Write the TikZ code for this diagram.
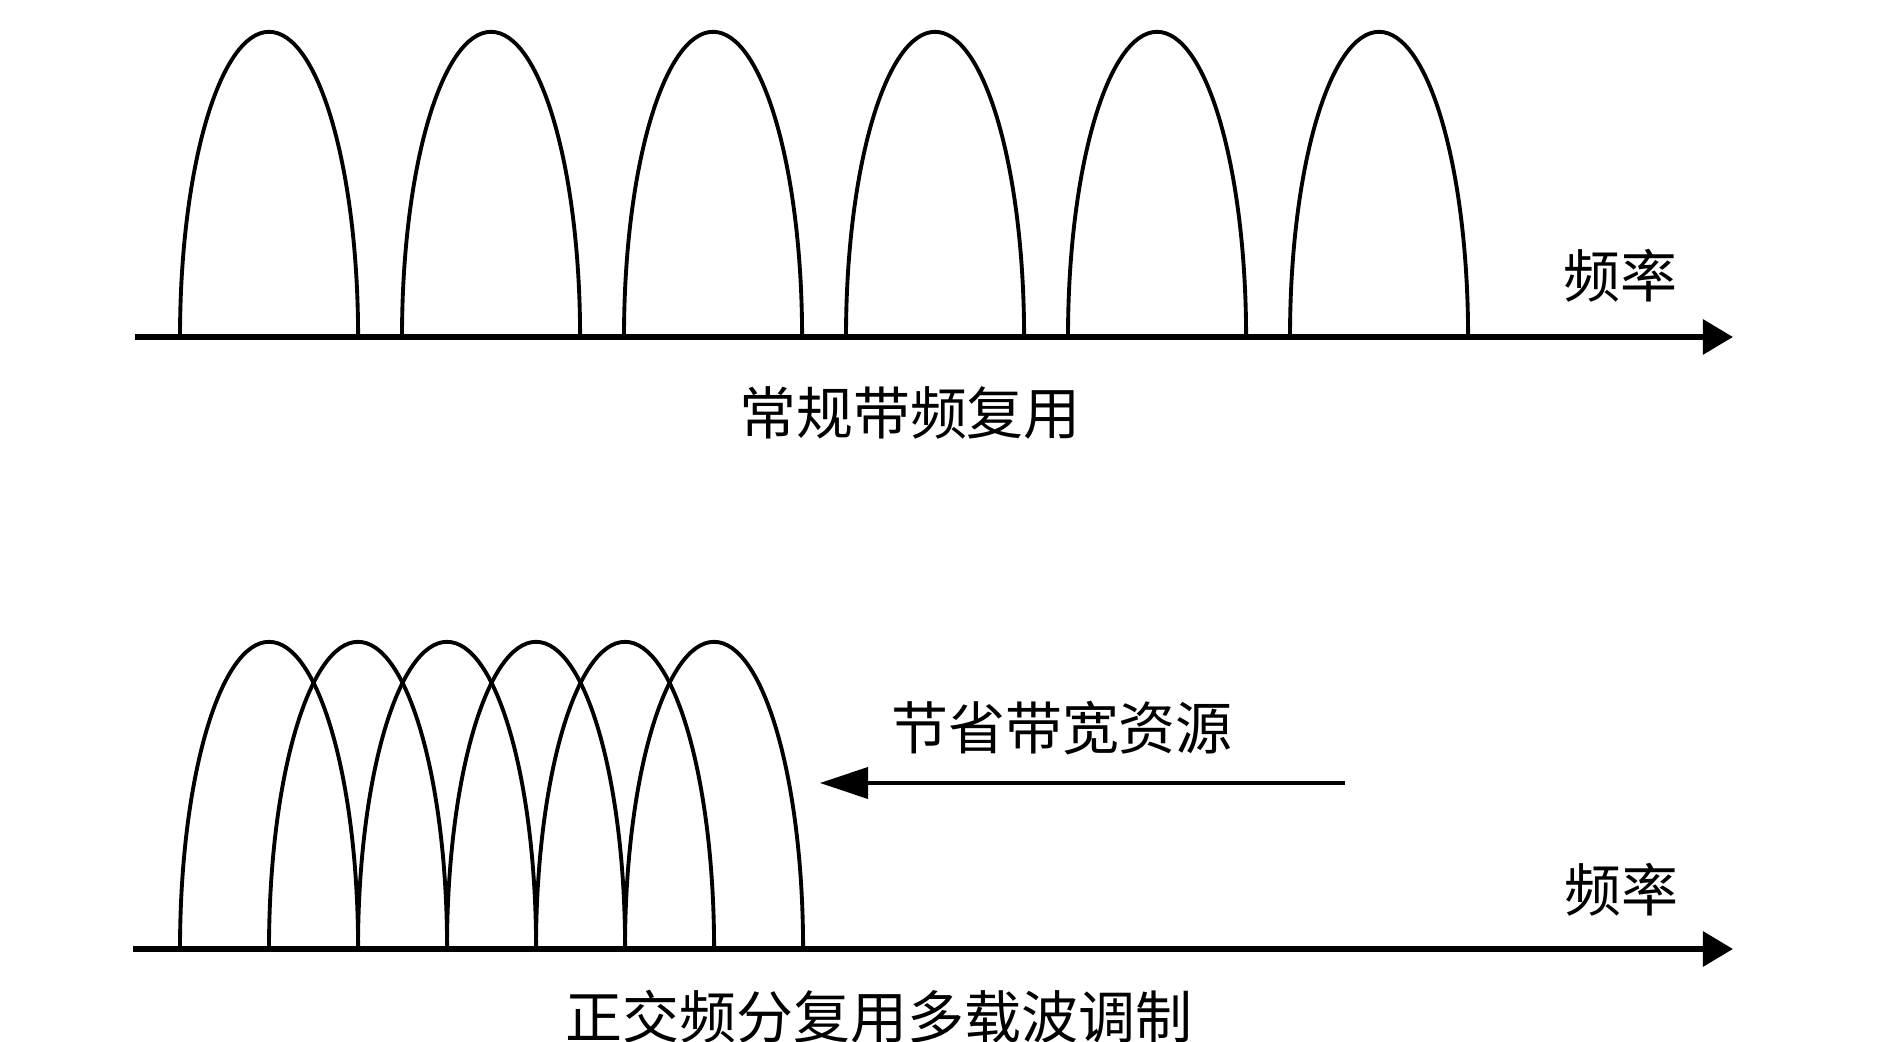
\documentclass[tikz,border=0pt]{standalone}
\usepackage{fontspec}
\newfontfamily\cjk{Noto Sans CJK SC}
\usetikzlibrary{arrows.meta}
\begin{document}
\begin{tikzpicture}[x=0.01cm,y=0.01cm,
  axisline/.style={line width=1.7pt,-{Triangle[length=0.30cm,width=0.34cm]}},
  lobe/.style={line width=1.1pt},
  savearrow/.style={line width=1.1pt,-{Triangle[length=0.48cm,width=0.31cm]}},
  lbl/.style={font=\cjk\fontsize{16.2pt}{19pt}\selectfont,inner sep=0pt}]
\useasboundingbox (0,0) rectangle (1890,1042);
% top axis
\coordinate (tA) at (135,705);
\coordinate (tB) at (1733,705);
\draw[axisline] (tA) -- (tB);
\foreach \k in {0,...,5}{
  \draw[lobe] ({180+222*\k},705) arc[start angle=180,end angle=0,x radius=0.89cm,y radius=3.05cm];
}
\node[lbl] (f1) at (1620,766) {频率};
\node[lbl] (t1) at (910,629) {常规带频复用};
% bottom axis
\coordinate (bA) at (133,93);
\coordinate (bB) at (1733,93);
\draw[axisline] (bA) -- (bB);
\foreach \k in {0,...,5}{
  \draw[lobe] ({180+89*\k},93) arc[start angle=180,end angle=0,x radius=0.89cm,y radius=3.07cm];
}
\node[lbl] (f2) at (1621,152) {频率};
\node[lbl] (t2) at (1062,314) {节省带宽资源};
\coordinate (sA) at (1345,259);
\coordinate (sB) at (820,259);
\draw[savearrow] (sA) -- (sB);
\node[lbl] (t3) at (879,25) {正交频分复用多载波调制};
\end{tikzpicture}
\end{document}
